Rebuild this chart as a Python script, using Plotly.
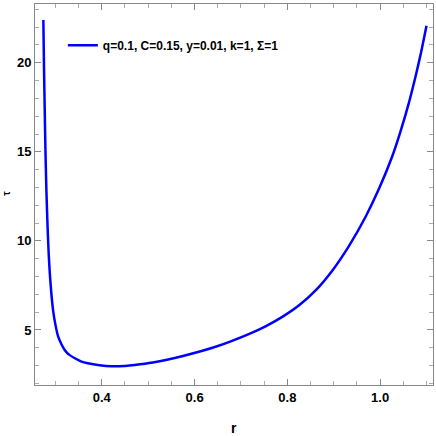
import plotly.graph_objects as go

# values
r_vals = [0.274, 0.2755, 0.277, 0.2785, 0.2805, 0.283, 0.2855, 0.2895, 0.295, 0.300,
          0.306, 0.313, 0.320, 0.330, 0.342, 0.355, 0.370, 0.395, 0.421, 0.45,
          0.471, 0.51, 0.575, 0.647, 0.718, 0.754, 0.790, 0.826, 0.862, 0.898,
          0.933, 0.969, 0.998, 1.026, 1.044, 1.062, 1.077, 1.088, 1.100]
tau_vals = [22.4, 19.6, 17.3, 15.1, 12.9, 10.9, 9.3, 7.62, 6.1, 5.3,
            4.62, 4.2, 3.88, 3.6, 3.41, 3.24, 3.13, 3.02, 2.96, 2.98,
            3.03, 3.17, 3.54, 4.07, 4.78, 5.22, 5.75, 6.40, 7.25, 8.37,
            9.72, 11.37, 12.95, 14.74, 16.15, 17.75, 19.3, 20.55, 22.08]
legend_label = "q=0.1, C=0.15, y=0.01, k=1, Σ=1"
x_ticks = [0.4, 0.6, 0.8, 1.0]
y_ticks = [5, 10, 15, 20]

font_family = "Liberation Sans Narrow, Arial Narrow, Liberation Sans, sans-serif"

fig = go.Figure(go.Scatter(
    x=r_vals, y=tau_vals, mode="lines", name=legend_label,
    line=dict(color="#0000ff", width=2.5, shape="spline", smoothing=0.6),
    showlegend=True,
))

axis_common = dict(
    showline=True, mirror="allticks", linecolor="#888888", linewidth=1,
    ticks="inside", ticklen=6, tickcolor="#888888",
    showgrid=False, zeroline=False, automargin=False,
    tickfont=dict(family=font_family, size=13, color="black", weight="bold"),
)

fig.update_xaxes(
    range=[0.256, 1.114], tickvals=x_ticks, ticktext=[f"{v:.1f}" for v in x_ticks],
    minor=dict(ticks="inside", ticklen=4, tickcolor="#aaaaaa", dtick=0.05, tick0=0.4),
    **axis_common,
)
fig.update_yaxes(
    range=[1.91, 23.3], tickvals=y_ticks,
    minor=dict(ticks="inside", ticklen=4, tickcolor="#aaaaaa", dtick=1, tick0=0),
    **axis_common,
)

fig.update_layout(
    width=436, height=436,
    margin=dict(l=35, r=3, t=4, b=51),
    paper_bgcolor="white", plot_bgcolor="white",
    legend=dict(x=0.07, y=0.93, xanchor="left", yanchor="top",
                bgcolor="rgba(0,0,0,0)",
                font=dict(family=font_family, size=12, color="black", weight="bold")),
    annotations=[
        dict(text="r", xref="paper", yref="paper", x=0.5, y=-0.112,
             xanchor="center", yanchor="middle", showarrow=False,
             font=dict(family=font_family, size=14, color="black", weight="bold")),
        dict(text="τ", xref="paper", yref="paper", x=-0.071, y=0.504,
             xanchor="center", yanchor="middle", showarrow=False, textangle=-90,
             font=dict(family=font_family, size=10, color="black", weight="bold")),
    ],
)

fig.write_html("out.html", config={"displayModeBar": False},
               post_script="document.body.style.margin='0px';")
